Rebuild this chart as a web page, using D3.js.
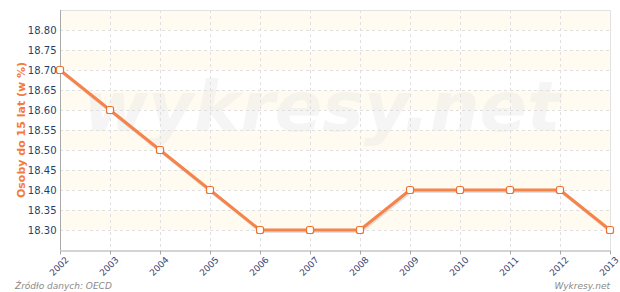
<!DOCTYPE html>
<html>
<head>
<meta charset="utf-8">
<script src="https://cdn.jsdelivr.net/npm/d3@7"></script>
<style>
  body { margin: 0; background: #fff; }
  text { font-family: Verdana, "DejaVu Sans", sans-serif; }
</style>
</head>
<body>
<div class="chart"></div>
<script>
// lata i wartosci
const years = ['2002', '2003', '2004', '2005', '2006', '2007', '2008', '2009', '2010', '2011', '2012', '2013'];
const values = [18.70, 18.60, 18.50, 18.40, 18.30, 18.30, 18.30, 18.40, 18.40, 18.40, 18.40, 18.30];
const yTicks = [18.30, 18.35, 18.40, 18.45, 18.50, 18.55, 18.60, 18.65, 18.70, 18.75, 18.80];

const width = 620, height = 292;
const margin = { top: 10, right: 10, bottom: 42, left: 60 };

const svg = d3.select('.chart')
              .append('svg')
              .attr('width', width)
              .attr('height', height);

const x = d3.scalePoint()
            .domain(years)
            .range([margin.left, width - margin.right]);

const y = d3.scaleLinear()
            .domain([18.25, 18.85])
            .range([height - margin.bottom, margin.top]);

// pasy tla
const bands = d3.range(18.30, 18.85, 0.10);
svg.selectAll('.band')
   .data(bands)
   .enter()
   .append('rect')
   .attr('class', 'band')
   .attr('x', margin.left)
   .attr('width', width - margin.right - margin.left)
   .attr('y', d => y(d + 0.05))
   .attr('height', d => y(d) - y(d + 0.05))
   .attr('fill', '#fffbf0');

// watermark
svg.append('text')
   .attr('x', 322)
   .attr('y', 131)
   .attr('text-anchor', 'middle')
   .style('font-family', '"DejaVu Sans", sans-serif')
   .style('font-size', '70px')
   .style('font-weight', 'bold')
   .style('font-style', 'italic')
   .attr('fill', '#e8e8e8')
   .attr('opacity', 0.4)
   .text('wykresy.net');

// siatka pozioma
svg.selectAll('.hgrid')
   .data(yTicks)
   .enter()
   .append('line')
   .attr('x1', margin.left)
   .attr('x2', width - margin.right)
   .attr('y1', d => Math.round(y(d)) + 0.5)
   .attr('y2', d => Math.round(y(d)) + 0.5)
   .attr('stroke', '#e0e0e0')
   .attr('stroke-dasharray', '3,3');

// siatka pionowa
svg.selectAll('.vgrid')
   .data(years.slice(1, -1))
   .enter()
   .append('line')
   .attr('x1', d => Math.round(x(d)) + 0.5)
   .attr('x2', d => Math.round(x(d)) + 0.5)
   .attr('y1', margin.top)
   .attr('y2', height - margin.bottom)
   .attr('stroke', '#e0e0e0')
   .attr('stroke-dasharray', '3,3');

// ramka gorna i prawa
svg.append('path')
   .attr('d', `M${margin.left},${margin.top + 0.5}H${width - margin.right + 0.5}V${height - margin.bottom}`)
   .attr('fill', 'none')
   .attr('stroke', '#e2e2e2');

// os Y
const yAxis = d3.axisLeft(y)
                .tickValues(yTicks)
                .tickSize(0)
                .tickPadding(4)
                .tickFormat(d3.format('.2f'));
const gy = svg.append('g')
              .attr('transform', `translate(${margin.left + 0.5},0)`)
              .call(yAxis);
gy.select('.domain').attr('stroke', '#aaaaaa').attr('d', `M0,${margin.top}V${height - margin.bottom}`);
gy.selectAll('text')
  .style('font-size', '10px')
  .attr('fill', '#1f3f6e');

// os X
const xAxis = d3.axisBottom(x)
                .tickSize(4)
                .tickSizeOuter(0);
const gx = svg.append('g')
              .attr('transform', `translate(0,${height - margin.bottom + 0.5})`)
              .call(xAxis);
gx.select('.domain').attr('stroke', '#aaaaaa');
gx.selectAll('.tick line').attr('stroke', '#aaaaaa');
gx.selectAll('text')
  .style('font-size', '9px')
  .attr('fill', '#2a4a7a')
  .attr('text-anchor', 'end')
  .attr('dy', '0.3em')
  .attr('transform', 'translate(2,3) rotate(-45)');

// tytul osi Y
svg.append('text')
   .attr('transform', `translate(25,${(margin.top + height - margin.bottom) / 2}) rotate(-90)`)
   .attr('text-anchor', 'middle')
   .style('font-size', '11px')
   .style('font-weight', 'bold')
   .attr('fill', '#f47b3c')
   .text('Osoby do 15 lat (w %)');

// linia
const line = d3.line()
               .x((d, i) => x(years[i]))
               .y(d => y(d));

svg.append('path')
   .datum(values)
   .attr('d', line)
   .attr('transform', 'translate(1,1.5)')
   .attr('fill', 'none')
   .attr('stroke', '#888')
   .attr('stroke-opacity', 0.25)
   .attr('stroke-width', 3);

svg.append('path')
   .datum(values)
   .attr('d', line)
   .attr('fill', 'none')
   .attr('stroke', '#f5834a')
   .attr('stroke-width', 3)
   .attr('stroke-linejoin', 'round');

// punkty
svg.selectAll('.point')
   .data(values)
   .enter()
   .append('rect')
   .attr('class', 'point')
   .attr('x', (d, i) => x(years[i]) - 3.5)
   .attr('y', d => y(d) - 3.5)
   .attr('width', 7)
   .attr('height', 7)
   .attr('rx', 2)
   .attr('fill', '#ffffff')
   .attr('stroke', '#f07030')
   .attr('stroke-width', 1.2);

// stopka
svg.append('text')
   .attr('x', 15)
   .attr('y', 289)
   .style('font-size', '9px')
   .style('font-style', 'italic')
   .attr('fill', '#8a8a8a')
   .text('Źródło danych: OECD');

svg.append('text')
   .attr('x', 610)
   .attr('y', 289)
   .attr('text-anchor', 'end')
   .style('font-size', '9px')
   .style('font-style', 'italic')
   .attr('fill', '#8a8a8a')
   .text('Wykresy.net');
</script>
</body>
</html>
